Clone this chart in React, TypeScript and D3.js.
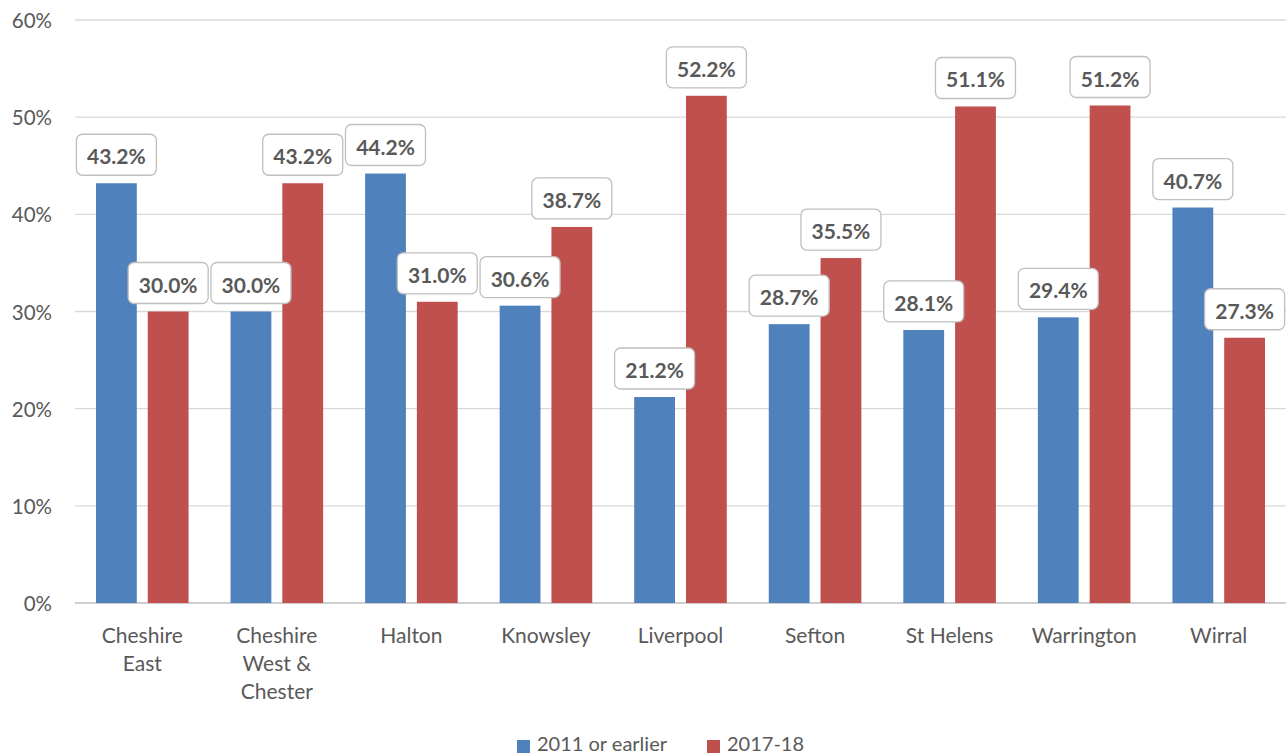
import React from "react";
import * as d3 from "d3";

const categories: string[][] = [
  ["Cheshire", "East"],
  ["Cheshire", "West &", "Chester"],
  ["Halton"],
  ["Knowsley"],
  ["Liverpool"],
  ["Sefton"],
  ["St Helens"],
  ["Warrington"],
  ["Wirral"],
];
const seriesNames = ["2011 or earlier", "2017-18"];
const series2011 = [43.2, 30.0, 44.2, 30.6, 21.2, 28.7, 28.1, 29.4, 40.7];
const series2017 = [30.0, 43.2, 31.0, 38.7, 52.2, 35.5, 51.1, 51.2, 27.3];
const yTicks = [0, 10, 20, 30, 40, 50, 60];
const colors = ["#4F81BD", "#C0504D"];

const W = 1286;
const H = 755;
const left = 75;
const right = 1286;
const top = 20;
const bottom = 603;
const FONT = "Lato, 'Open Sans', sans-serif";
const TXT = "#595959";

export default function App() {
  const x0 = d3
    .scaleBand<number>()
    .domain(categories.map((_, i) => i))
    .range([left, right])
    .padding(0);
  const bw = x0.bandwidth();
  const x1 = d3
    .scaleBand<number>()
    .domain([0, 1])
    .range([bw * 0.156, bw * 0.844])
    .paddingInner(0.212);
  const y = d3.scaleLinear().domain([0, 60]).range([bottom, top]);
  const data = [series2011, series2017];

  const boxW = 80;
  const boxH = 41;

  return (
    <svg
      width={W}
      height={H}
      style={{ position: "absolute", left: 0, top: 0, background: "#fff" }}
      fontFamily={FONT}
    >
      {yTicks.map((t) => (
        <g key={t}>
          <line
            x1={left}
            x2={right}
            y1={y(t)}
            y2={y(t)}
            stroke={t === 0 ? "#BFBFBF" : "#D9D9D9"}
            strokeWidth={1.3}
          />
          <text
            x={52}
            y={y(t)}
            textAnchor="end"
            dominantBaseline="central"
            fontSize={20.5}
            fill={TXT}
          >
            {t}%
          </text>
        </g>
      ))}
      {data.map((vals, s) =>
        vals.map((v, i) => (
          <rect
            key={`${s}-${i}`}
            x={(x0(i) as number) + (x1(s) as number)}
            y={y(v)}
            width={x1.bandwidth()}
            height={y(0) - y(v)}
            fill={colors[s]}
          />
        ))
      )}
      {data.map((vals, s) =>
        vals.map((v, i) => {
          const cx = (x0(i) as number) + (x1(s) as number) + x1.bandwidth() / 2;
          let bx = cx - boxW / 2;
          if (bx + boxW > W - 1) bx = W - 1 - boxW;
          const by = y(v) - 8 - boxH;
          return (
            <g key={`l${s}-${i}`}>
              <rect
                x={bx}
                y={by}
                width={boxW}
                height={boxH}
                rx={6}
                fill="#fff"
                stroke="#BFBFBF"
                strokeWidth={1.3}
              />
              <text
                x={bx + boxW / 2}
                y={by + boxH / 2 + 1}
                textAnchor="middle"
                dominantBaseline="central"
                fontSize={21}
                fontWeight="bold"
                fill={TXT}
              >
                {v.toFixed(1)}%
              </text>
            </g>
          );
        })
      )}
      {categories.map((lines, i) => (
        <text
          key={`c${i}`}
          x={(x0(i) as number) + bw / 2}
          y={643}
          textAnchor="middle"
          fontSize={21}
          fill={TXT}
        >
          {lines.map((ln, k) => (
            <tspan key={k} x={(x0(i) as number) + bw / 2} y={643 + k * 28}>
              {ln}
            </tspan>
          ))}
        </text>
      ))}
      {seriesNames.map((n, s) => {
        const lx = [517, 707][s];
        return (
          <g key={n}>
            <rect x={lx} y={740} width={13} height={13} fill={colors[s]} />
            <text x={lx + 20} y={751} fontSize={20} fill={TXT}>
              {n}
            </text>
          </g>
        );
      })}
    </svg>
  );
}
